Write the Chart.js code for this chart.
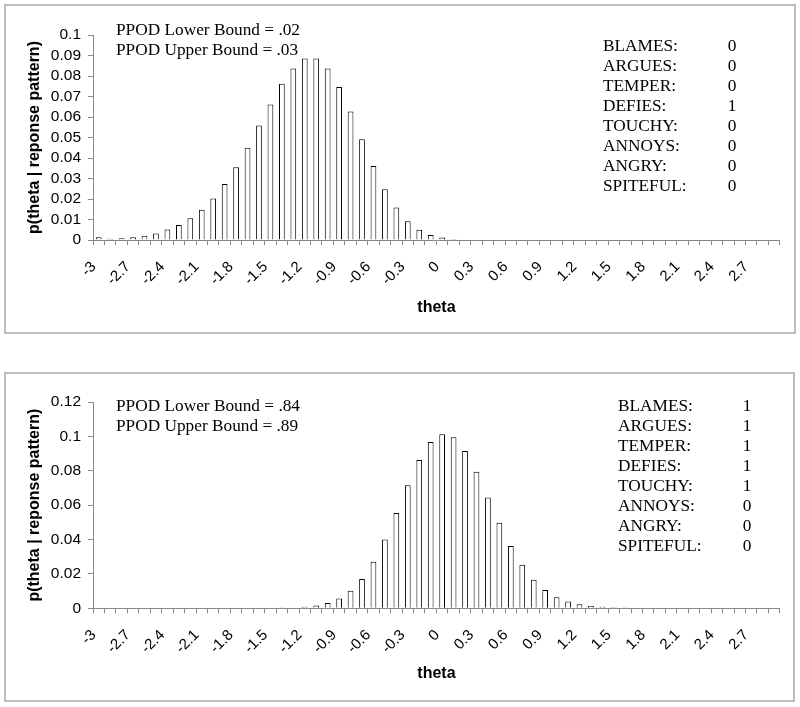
<!DOCTYPE html>
<html>
<head>
<meta charset="utf-8">
<script src="https://cdn.jsdelivr.net/npm/chart.js@4"></script>
<style>
  html, body { margin: 0; padding: 0; background: #fff; }
  body { width: 800px; height: 707px; position: relative; overflow: hidden; }
  .box { position: absolute; border: 2px solid #bdbdbd; box-sizing: border-box; }
  .cw { position: absolute; left: 0; width: 800px; }
</style>
</head>
<body>
<div class="box" style="left:4px; top:4px; width:792px; height:330px;"></div>
<div class="box" style="left:4px; top:372px; width:791px; height:330px;"></div>
<div class="cw" style="top:0; height:340px;"><canvas id="c1"></canvas></div>
<div class="cw" style="top:350px; height:357px;"><canvas id="c2"></canvas></div>
<script>
// ---- data ----
const thetaCategories = ["-3","-2.9","-2.8","-2.7","-2.6","-2.5","-2.4","-2.3","-2.2","-2.1",
  "-2","-1.9","-1.8","-1.7","-1.6","-1.5","-1.4","-1.3","-1.2","-1.1",
  "-1","-0.9","-0.8","-0.7","-0.6","-0.5","-0.4","-0.3","-0.2","-0.1",
  "0","0.1","0.2","0.3","0.4","0.5","0.6","0.7","0.8","0.9",
  "1","1.1","1.2","1.3","1.4","1.5","1.6","1.7","1.8","1.9",
  "2","2.1","2.2","2.3","2.4","2.5","2.6","2.7","2.8","2.9"];
const xTickLabels = ["-3","-2.7","-2.4","-2.1","-1.8","-1.5","-1.2","-0.9","-0.6","-0.3",
  "0","0.3","0.6","0.9","1.2","1.5","1.8","2.1","2.4","2.7"];

const pattern1Values = [0.0013,0.0006,0.0008,0.0013,0.0021,0.0032,0.0051,0.0073,0.0106,0.0147,
  0.0202,0.0273,0.0355,0.0450,0.0558,0.0661,0.0762,0.0837,0.0885,0.0885,
  0.0837,0.0746,0.0627,0.0492,0.0361,0.0247,0.0158,0.0092,0.0050,0.0025,
  0.0012,0.0005,0.0003,0.0002,0,0,0,0,0,0,
  0,0,0,0,0,0,0,0,0,0,
  0,0,0,0,0,0,0,0,0,0];
const pattern2Values = [0,0,0,0,0,0,0,0,0,0,
  0,0,0,0,0,0,0.0004,0.0005,0.0009,0.0016,
  0.0031,0.0057,0.0102,0.0171,0.0271,0.0400,0.0555,0.0716,0.0862,0.0968,
  0.1013,0.0995,0.0915,0.0794,0.0644,0.0498,0.0363,0.0254,0.0166,0.0106,
  0.0064,0.0039,0.0024,0.0014,0.0009,0.0006,0.0004,0.0003,0,0,
  0,0,0,0,0,0,0,0,0,0];

const itemNames = ["BLAMES:","ARGUES:","TEMPER:","DEFIES:","TOUCHY:","ANNOYS:","ANGRY:","SPITEFUL:"];
const pattern1Items = [0,0,0,1,0,0,0,0];
const pattern2Items = [1,1,1,1,1,0,0,0];
const pattern1Bounds = ["PPOD Lower Bound = .02","PPOD Upper Bound = .03"];
const pattern2Bounds = ["PPOD Lower Bound = .84","PPOD Upper Bound = .89"];
const yTitle = "p(theta | reponse pattern)";
const xTitle = "theta";

// ---- drawing ----
const SANS = "'Liberation Sans', Arial, sans-serif";
const SERIF = "'Liberation Serif', 'Times New Roman', serif";
const AXIS_COLOR = '#8a8a8a';

function notePlugin(bounds, items, boundsPos, itemsPos) {
  return {
    id: 'notes',
    afterDraw(chart) {
      const ctx = chart.ctx;
      ctx.save();
      ctx.fillStyle = '#000';
      ctx.font = '17.3px ' + SERIF;
      ctx.textBaseline = 'alphabetic';
      ctx.textAlign = 'left';
      bounds.forEach((t, i) => ctx.fillText(t, boundsPos.x, boundsPos.y + i * 20));
      itemNames.forEach((t, i) => {
        ctx.textAlign = 'left';
        ctx.fillText(t, itemsPos.x, itemsPos.y + i * 20);
        ctx.textAlign = 'center';
        ctx.fillText(String(items[i]), itemsPos.vx, itemsPos.y + i * 20);
      });
      ctx.restore();
    }
  };
}

function makeChart(id, values, yMax, yStep, layout, plugin) {
  return new Chart(document.getElementById(id), {
    type: 'bar',
    data: {
      labels: thetaCategories,
      datasets: [{
        data: values.map(v => v === 0 ? null : v),
        backgroundColor: '#ffffff',
        borderColor: '#000000',
        borderWidth: 1,
        barPercentage: 0.5,
        categoryPercentage: 1.0
      }]
    },
    options: {
      responsive: true,
      maintainAspectRatio: false,
      animation: false,
      events: [],
      layout: { padding: { left: 0, right: layout.right, top: layout.top, bottom: 0 } },
      plugins: { legend: { display: false }, tooltip: { enabled: false } },
      scales: {
        x: {
          grid: { display: true, drawOnChartArea: false, drawTicks: true, tickLength: 5, offset: true, color: AXIS_COLOR, lineWidth: 1 },
          border: { display: true, color: AXIS_COLOR, width: 1 },
          ticks: {
            autoSkip: false, minRotation: 45, maxRotation: 45, padding: layout.xPad, labelOffset: -5,
            color: '#000', font: { family: SANS, size: 15 },
            callback: function (v, i) { const l = thetaCategories[i]; return xTickLabels.includes(l) ? l : ''; }
          },
          title: { display: true, text: xTitle, color: '#000', font: { family: SANS, size: 16, weight: 'bold' }, padding: { top: 0, bottom: layout.xTitlePad } },
          afterFit: function (s) { s.height = layout.xHeight; }
        },
        y: {
          min: 0, max: yMax,
          grid: { display: true, drawOnChartArea: false, drawTicks: true, tickLength: 5, color: AXIS_COLOR, lineWidth: 1 },
          border: { display: true, color: AXIS_COLOR, width: 1 },
          ticks: {
            stepSize: yStep, autoSkip: false, padding: 7, color: '#000', font: { family: SANS, size: 15.5 },
            callback: function (v) { return String(+v.toFixed(3)); }
          },
          title: { display: true, text: yTitle, color: '#000', font: { family: SANS, size: 16, weight: 'bold' }, padding: { top: layout.yTitlePad, bottom: 0 } },
          afterFit: function (s) { s.width = 93; }
        }
      }
    },
    plugins: [plugin]
  });
}

makeChart('c1', pattern1Values, 0.1, 0.01,
  { right: 19, top: 35, xHeight: 100, xPad: 13, xTitlePad: 22.5, yTitlePad: 25 },
  notePlugin(pattern1Bounds, pattern1Items, { x: 116, y: 35 }, { x: 603, y: 50.7, vx: 732 }));
makeChart('c2', pattern2Values, 0.12, 0.02,
  { right: 19, top: 52, xHeight: 98.7, xPad: 13, xTitlePad: 23.5, yTitlePad: 25 },
  notePlugin(pattern2Bounds, pattern2Items, { x: 116, y: 61 }, { x: 618, y: 60.7, vx: 747 }));
</script>
</body>
</html>
